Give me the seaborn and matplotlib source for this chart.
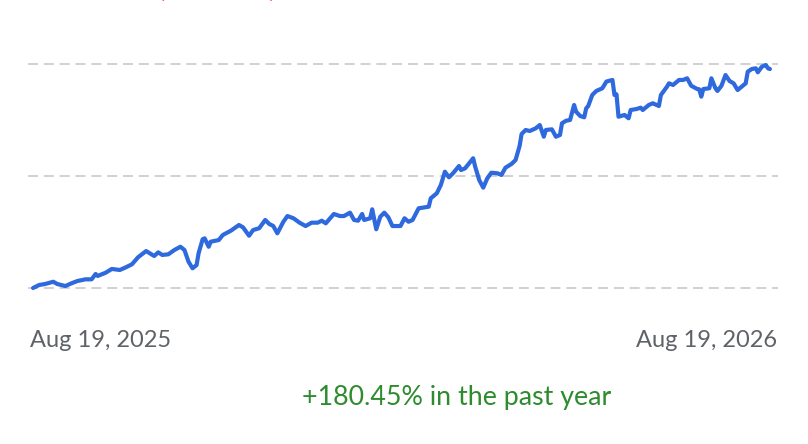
import matplotlib
matplotlib.use("Agg")
import matplotlib.pyplot as plt
import pandas as pd
import seaborn as sns

# Price history (days after Aug 19, 2025)
days = [0, 3, 6, 10, 12, 16, 19, 22, 26, 29,
        31, 32, 36, 39, 43, 46, 49, 52, 56, 60,
        62, 64, 67, 70, 73, 75, 77, 79, 81, 82,
        84, 85, 87, 88, 92, 94, 98, 102, 104, 107,
        109, 112, 115, 117, 119, 121, 124, 126, 129, 132,
        135, 138, 141, 143, 145, 149, 152, 154, 157, 159,
        161, 163, 164, 167, 168, 170, 172, 174, 176, 178,
        182, 184, 186, 188, 191, 196, 197, 200, 202, 204,
        206, 208, 211, 212, 214, 216, 218, 219, 221, 223,
        225, 227, 230, 232, 234, 237, 239, 241, 242, 244,
        246, 249, 251, 253, 254, 257, 259, 261, 262, 264,
        266, 268, 269, 271, 273, 274, 275, 277, 279, 282,
        284, 287, 288, 289, 290, 293, 295, 296, 299, 301,
        302, 305, 307, 310, 311, 314, 315, 317, 320, 322,
        324, 326, 329, 330, 331, 332, 335, 336, 338, 339,
        341, 343, 345, 347, 349, 351, 353, 354, 356, 358,
        359, 361, 363, 364, 365]

prices = [13.00, 13.32, 13.43, 13.67, 13.43, 13.21, 13.50, 13.75, 13.93, 13.93,
          14.50, 14.29, 14.64, 15.04, 14.93, 15.22, 15.54, 16.29, 16.96, 16.43,
          16.82, 16.54, 16.61, 17.07, 17.42, 17.07, 15.82, 15.11, 15.46, 16.72,
          18.22, 18.32, 17.42, 17.96, 18.14, 18.68, 19.14, 19.75, 19.50, 18.60,
          19.21, 19.40, 20.29, 19.86, 19.64, 18.86, 20.10, 20.71, 20.47, 20.00,
          19.64, 20.00, 20.00, 20.21, 19.93, 20.93, 20.71, 20.71, 21.07, 20.29,
          20.21, 20.93, 20.29, 20.47, 21.43, 19.29, 20.64, 21.07, 20.57, 19.64,
          19.64, 20.47, 20.10, 20.29, 21.54, 21.71, 22.61, 23.15, 24.04, 25.46,
          24.86, 25.29, 26.07, 25.64, 25.82, 26.36, 26.90, 26.00, 24.57, 23.75,
          24.75, 25.35, 25.29, 25.11, 25.89, 26.29, 26.71, 28.21, 29.50, 29.93,
          29.82, 30.11, 30.46, 29.21, 29.93, 30.00, 29.21, 29.39, 30.65, 30.92,
          31.00, 32.61, 31.89, 31.43, 31.29, 32.25, 32.50, 33.68, 34.11, 34.40,
          35.12, 35.29, 33.68, 33.75, 31.35, 31.54, 31.18, 32.07, 32.18, 32.32,
          32.07, 32.61, 32.79, 32.50, 33.68, 34.57, 34.93, 34.75, 35.29, 35.29,
          35.47, 34.67, 34.32, 34.29, 33.50, 34.32, 34.40, 35.47, 34.40, 34.11,
          34.67, 35.82, 35.18, 34.93, 34.21, 34.57, 34.93, 36.17, 36.46, 36.54,
          36.11, 36.71, 36.89, 36.54, 36.46]

grid_values = [13, 25, 37]
start_label = "Aug 19, 2025"
end_label = "Aug 19, 2026"
change_text = "+180.45% in the past year"
header_text = "\u22124.21 (\u221212.36%)"

start = pd.Timestamp("2025-08-19")
df = pd.DataFrame({"date": start + pd.to_timedelta(days, unit="D"), "price": prices})

sns.set_style("white")
plt.rcParams["font.family"] = ["Lato", "DejaVu Sans"]

fig = plt.figure(figsize=(8.08, 4.44), dpi=100)
ax = fig.add_axes([28 / 808, 144 / 444, 750 / 808, 250 / 444])

sns.lineplot(data=df, x="date", y="price", ax=ax, color="#2f69de",
             linewidth=3.0, solid_joinstyle="round", solid_capstyle="round")

for g in grid_values:
    ax.axhline(g, color="#c9c9c9", linewidth=1.2, dashes=(6, 3.5), zorder=0)

ax.set_xlim(start - pd.Timedelta(days=2.5), start + pd.Timedelta(days=369))
ax.set_ylim(11.714, 38.5)
ax.set_xticks([])
ax.set_yticks([])
ax.set_xlabel("")
ax.set_ylabel("")
sns.despine(ax=ax, left=True, bottom=True)

fig.text(30 / 808, 1 - 347 / 444, start_label, ha="left", va="baseline",
         fontsize=17, color="#5f6368")
fig.text(777 / 808, 1 - 347 / 444, end_label, ha="right", va="baseline",
         fontsize=17, color="#5f6368")
fig.text(457 / 808, 1 - 405 / 444, change_text, ha="center", va="baseline",
         fontsize=19.3, color="#2e8b2e")
fig.text(84 / 808, 1 + 3 / 444, header_text, ha="left", va="baseline",
         fontsize=19, color="#e0201b")

fig.savefig("out.png", dpi=100)
